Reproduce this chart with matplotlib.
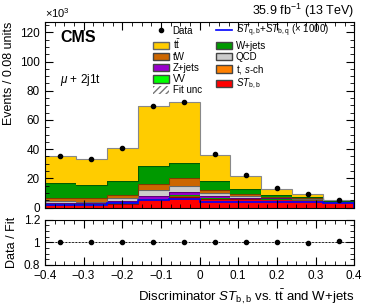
"""Discriminator ST_bb stacked fit, CMS style"""
import numpy as np
import matplotlib
matplotlib.use("Agg")
from matplotlib import pyplot as plt
from matplotlib.patches import Patch
from matplotlib.lines import Line2D
from matplotlib.ticker import MultipleLocator

plt.rcParams['font.family'] = ['Liberation Sans', 'DejaVu Sans']
plt.rcParams['mathtext.fontset'] = 'custom'
plt.rcParams['mathtext.rm'] = 'Liberation Sans'
plt.rcParams['mathtext.it'] = 'Liberation Sans:italic'
plt.rcParams['mathtext.bf'] = 'Liberation Sans:bold'

edges = np.linspace(-0.4, 0.4, 11)
centers = 0.5 * (edges[1:] + edges[:-1])

# events in units of 10^3, stacked from bottom to top
st_bb  = [1.6, 1.4, 2.3, 5.2, 7.2, 5.8, 5.8, 5.6, 5.3, 3.9]
t_sch  = [0.6, 0.6, 0.7, 0.7, 1.0, 0.6, 0.4, 0.3, 0.2, 0.1]
vv     = [0.1, 0.1, 0.1, 0.1, 0.1, 0.1, 0.1, 0.1, 0.05, 0.05]
zjets  = [0.9, 0.9, 1.3, 2.0, 2.2, 1.1, 0.5, 0.3, 0.15, 0.1]
qcd    = [1.2, 1.0, 1.8, 3.8, 4.0, 2.5, 1.4, 0.7, 0.3, 0.1]
tw     = [1.8, 2.2, 2.1, 4.6, 5.5, 1.6, 0.8, 0.5, 0.3, 0.1]
wjets  = [10.4, 9.2, 10.2, 12.2, 10.4, 6.2, 3.4, 1.4, 0.6, 0.2]
ttbar  = [18.9, 17.6, 22.5, 40.9, 42.1, 18.2, 9.2, 3.8, 2.2, 0.6]
signal = [1.6, 1.8, 3.2, 5.0, 5.8, 4.0, 3.8, 3.7, 3.5, 2.9]   # x1000
data   = [35.5, 33.0, 41.0, 69.5, 72.5, 36.5, 22.2, 13.3, 9.2, 5.1]
ratio  = [1.0, 1.0, 1.0, 1.0, 1.0, 1.0, 1.0, 1.0, 0.995, 1.01]

stack = [
    (st_bb, "#FF0000", "#990000"),
    (t_sch, "#FF8000", "#994c00"),
    (vv, "#00FF00", "#009900"),
    (zjets, "#9900CC", "#5c007a"),
    (qcd, "#CCCCCC", "#666666"),
    (tw, "#CC6600", "#7a3d00"),
    (wjets, "#009900", "#005c00"),
    (ttbar, "#FFCC00", "#888888"),
]

fig = plt.figure(figsize=(3.74, 3.07), dpi=100)
ax = fig.add_axes([0.120, 0.324, 0.827, 0.604])
rax = fig.add_axes([0.120, 0.137, 0.827, 0.148])

bottom = np.zeros(10)
for vals, col, edge in stack:
    top = bottom + np.array(vals)
    ax.stairs(top, edges, baseline=bottom, fill=True, color=col, lw=0)
    ax.stairs(top, edges, color=edge, lw=0.8)
    bottom = top
total = bottom

ax.stairs(signal, edges, color="#0000FF", lw=1.2)
ax.errorbar(centers, data, yerr=np.sqrt(np.array(data) / 1000.0), fmt="o",
            color="black", ms=3, lw=0.8)

ax.set_xlim(-0.4, 0.4)
ax.set_ylim(0, 127)
ax.set_xticklabels([])
ax.yaxis.set_major_locator(MultipleLocator(20))
ax.yaxis.set_minor_locator(MultipleLocator(5))
ax.xaxis.set_major_locator(MultipleLocator(0.1))
ax.xaxis.set_minor_locator(MultipleLocator(0.025))
for a in (ax, rax):
    a.tick_params(which="both", direction="in", top=True, right=True, labelsize=8.5)
    a.tick_params(which="major", length=6)
    a.tick_params(which="minor", length=3)
ax.set_ylabel("Events / 0.08 units", fontsize=9, ha="right", y=1.0)
ax.text(0.0, 1.01, r"$\times10^{3}$", transform=ax.transAxes, fontsize=8,
        ha="left", va="bottom")
ax.text(1.0, 1.01, r"35.9 fb$^{-1}$ (13 TeV)", transform=ax.transAxes,
        fontsize=9, ha="right", va="bottom")
ax.text(0.05, 0.955, "CMS", transform=ax.transAxes, fontsize=11.5,
        fontweight="bold", ha="left", va="top")
ax.text(0.05, 0.69, r"$\mu$ + 2j1t", transform=ax.transAxes, fontsize=8.5,
        ha="left", va="center")

handles = [
    Line2D([], [], color="black", marker="o", ms=3, ls="none"),
    Patch(facecolor="#FFCC00", edgecolor="#666666"),
    Patch(facecolor="#CC6600", edgecolor="#444444"),
    Patch(facecolor="#9900CC", edgecolor="#444444"),
    Patch(facecolor="#00FF00", edgecolor="#444444"),
    Patch(facecolor="white", edgecolor="#777777", hatch="/////", lw=0),
    Line2D([], [], color="#0000FF", lw=1.2),
    Patch(facecolor="#009900", edgecolor="#444444"),
    Patch(facecolor="#CCCCCC", edgecolor="#444444"),
    Patch(facecolor="#FF8000", edgecolor="#444444"),
    Patch(facecolor="#FF0000", edgecolor="#444444"),
]
labels = ["Data", r"t$\bar{\rm t}$", "tW", "Z+jets", "VV", "Fit unc",
          r"$ST_{\rm q,b}$+$ST_{\rm b,q}$ ($\times$ 1000)", "W+jets", "QCD",
          r"t, $s$-ch", r"$ST_{\rm b,b}$"]
ax.legend(handles, labels, ncol=2, loc="upper left", bbox_to_anchor=(0.35, 0.995),
          fontsize=7, frameon=False, handlelength=1.6, handleheight=0.8,
          handletextpad=0.4, columnspacing=1.5, labelspacing=0.12,
          borderaxespad=0, borderpad=0)

# ratio panel
rax.stairs(np.full(10, 1.006), edges, baseline=np.full(10, 0.994), fill=True,
           color="#BBBBBB", lw=0)
rax.axhline(1.0, color="black", ls=(0, (2, 2)), lw=0.6)
rax.errorbar(centers, ratio, yerr=0.003, fmt="o", color="black", ms=3, lw=0.8)
rax.set_xlim(-0.4, 0.4)
rax.set_ylim(0.8, 1.2)
rax.set_yticks([0.8, 1.0, 1.2])
rax.set_yticklabels(["0.8", "1", "1.2"])
rax.yaxis.set_minor_locator(MultipleLocator(0.05))
rax.xaxis.set_minor_locator(MultipleLocator(0.025))
rax.set_xticks(np.round(np.arange(-0.4, 0.41, 0.1), 1))
rax.set_xticklabels(["\u22120.4", "\u22120.3", "\u22120.2", "\u22120.1", "0",
                     "0.1", "0.2", "0.3", "0.4"])
rax.set_ylabel("Data / Fit", fontsize=9)
rax.set_xlabel(r"Discriminator $ST_{\rm b,b}$ vs. t$\bar{\rm t}$ and W+jets",
               fontsize=9.5, ha="right", x=1.0)

fig.align_ylabels([ax, rax])
plt.savefig("out.png", dpi=100)
